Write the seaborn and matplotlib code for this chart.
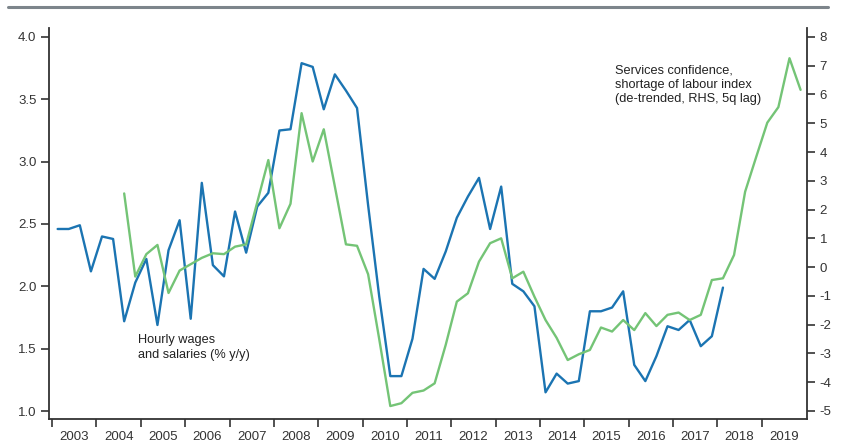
import numpy as np
import pandas as pd
import matplotlib
matplotlib.use("Agg")
import matplotlib.pyplot as plt
from matplotlib.lines import Line2D
import seaborn as sns

# Hourly wages and salaries (% y/y), quarterly, LHS
wage_quarters = pd.period_range("2003Q1", "2018Q1", freq="Q")
wages = [2.46, 2.46, 2.49, 2.12,
         2.40, 2.38, 1.72, 2.03,
         2.22, 1.69, 2.29, 2.53,
         1.74, 2.83, 2.17, 2.08,
         2.60, 2.27, 2.64, 2.75,
         3.25, 3.26, 3.79, 3.76,
         3.42, 3.70, 3.57, 3.43,
         2.65, 1.92, 1.28, 1.28,
         1.58, 2.14, 2.06, 2.28,
         2.55, 2.72, 2.87, 2.46,
         2.80, 2.02, 1.96, 1.84,
         1.15, 1.30, 1.22, 1.24,
         1.80, 1.80, 1.83, 1.96,
         1.37, 1.24, 1.44, 1.68,
         1.65, 1.73, 1.52, 1.60,
         1.99]

# Services confidence, shortage of labour index (de-trended, 5q lag), RHS
conf_quarters = pd.period_range("2004Q3", "2019Q4", freq="Q")
confidence = [2.56, -0.33,
              0.45, 0.77, -0.90, -0.12,
              0.10, 0.32, 0.48, 0.45,
              0.71, 0.79, 2.25, 3.72,
              1.35, 2.20, 5.35, 3.67,
              4.79, 2.80, 0.79, 0.74,
              -0.25, -2.50, -4.83, -4.73,
              -4.37, -4.29, -4.04, -2.70,
              -1.20, -0.91, 0.19, 0.83,
              1.00, -0.39, -0.16, -1.03,
              -1.84, -2.46, -3.23, -3.03,
              -2.88, -2.10, -2.24, -1.84,
              -2.19, -1.60, -2.05, -1.66,
              -1.58, -1.84, -1.66, -0.45,
              -0.39, 0.42, 2.62, 3.83,
              5.02, 5.56, 7.26, 6.16]

years = list(range(2003, 2020))
left_ticks = [1.0, 1.5, 2.0, 2.5, 3.0, 3.5, 4.0]
right_ticks = list(range(-5, 9))


def to_decimal(periods):
    # plot each quarter at its mid point
    return periods.year + (periods.quarter - 0.5) / 4


wage_df = pd.DataFrame({"x": to_decimal(wage_quarters), "y": wages})
conf_df = pd.DataFrame({"x": to_decimal(conf_quarters), "y": confidence})

sns.set_style("ticks")
plt.rcParams["font.family"] = ["Liberation Sans", "DejaVu Sans"]
plt.rcParams["axes.unicode_minus"] = False

blue = "#1b74b2"
green = "#74c476"
dark = "#333333"

fig = plt.figure(figsize=(8.44, 4.42), dpi=100)
ax = fig.add_axes([49 / 844, 23 / 442, 758 / 844, 391 / 442])
ax2 = ax.twinx()

sns.lineplot(data=wage_df, x="x", y="y", ax=ax, color=blue, lw=1.7)
sns.lineplot(data=conf_df, x="x", y="y", ax=ax2, color=green, lw=1.7)

ax.set_xlim(2002.93, 2020.02)
ax.set_ylim(0.936, 4.072)
ax2.set_ylim(-5.28, 8.31)

for a in (ax, ax2):
    a.set_xlabel("")
    a.set_ylabel("")
    a.spines["top"].set_visible(False)
    for s in ("left", "right", "bottom"):
        a.spines[s].set_color(dark)
        a.spines[s].set_linewidth(1.3)
ax.spines["right"].set_visible(False)
ax2.spines["left"].set_visible(False)
ax2.spines["bottom"].set_visible(False)

ax.set_yticks(left_ticks)
ax.set_yticklabels([f"{v:.1f}" for v in left_ticks])
ax2.set_yticks(right_ticks)
ax2.set_yticklabels([str(v) for v in right_ticks])

# year boundaries as ticks, labels centred in each year
ax.set_xticks(years)
ax.set_xticklabels([])
ax.set_xticks([y + 0.5 for y in years], minor=True)
ax.set_xticklabels([str(y) for y in years], minor=True)
ax.tick_params(axis="x", which="major", length=6, width=1.2, color=dark, direction="out")
ax.tick_params(axis="x", which="minor", length=0, pad=9, labelsize=9.5, labelcolor=dark)
ax.tick_params(axis="y", length=6, width=1.2, color=dark, labelsize=9.5, labelcolor=dark, pad=3)
ax2.tick_params(axis="y", length=6, width=1.2, color=dark, labelsize=9.5, labelcolor=dark, pad=3)

ax.text(2004.94, 1.51, "Hourly wages\nand salaries (% y/y)", fontsize=9.2,
        color="#222222", ha="left", va="center", linespacing=1.25)
ax2.text(2015.69, 6.33, "Services confidence,\nshortage of labour index\n(de-trended, RHS, 5q lag)",
         fontsize=9.2, color="#222222", ha="left", va="center", linespacing=1.25)

# grey rule across the top of the panel
fig.add_artist(Line2D([8 / 844, 828 / 844], [1 - 7 / 442, 1 - 7 / 442],
                      transform=fig.transFigure, color="#7d858b", lw=2.2))

fig.savefig("out.png", dpi=100)
